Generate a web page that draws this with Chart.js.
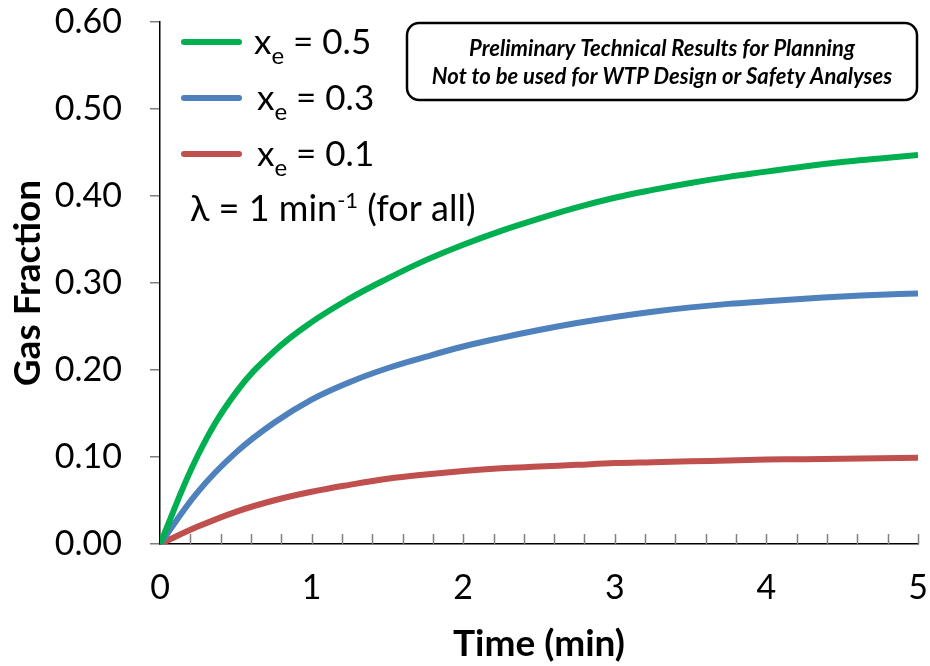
<!DOCTYPE html>
<html>
<head>
<meta charset="utf-8">
<script src="https://cdn.jsdelivr.net/npm/chart.js@4/dist/chart.umd.min.js"></script>
<style>
  html, body { margin: 0; padding: 0; background: #fff; }
  #wrap { width: 930px; height: 666px; position: relative; }
</style>
</head>
<body>
<div id="wrap"><canvas id="graph" width="930" height="666"></canvas></div>
<script>
// time (min)
var timeMin = [0, 0.25, 0.5, 0.75, 1.0, 1.25, 1.5, 1.75, 2.0, 2.25, 2.5, 2.75, 3.0, 3.25, 3.5, 3.75, 4.0, 4.25, 4.5, 4.75, 5.0];
// gas fraction
var gasX05 = [0, 0.102, 0.174, 0.221, 0.255, 0.282, 0.305, 0.326, 0.344, 0.360, 0.374, 0.387, 0.398, 0.407, 0.415, 0.422, 0.428, 0.434, 0.439, 0.443, 0.447];
var gasX03 = [0, 0.060, 0.105, 0.139, 0.166, 0.186, 0.202, 0.215, 0.227, 0.237, 0.246, 0.254, 0.261, 0.267, 0.272, 0.276, 0.279, 0.282, 0.2845, 0.2865, 0.288];
var gasX01 = [0, 0.020, 0.037, 0.050, 0.060, 0.068, 0.075, 0.080, 0.084, 0.087, 0.089, 0.091, 0.093, 0.094, 0.095, 0.096, 0.097, 0.0975, 0.098, 0.0985, 0.099];
var seriesLabels = ['0.5', '0.3', '0.1'];
var seriesColors = ['#00B050', '#4F81BD', '#C0504D'];
var xTickLabels = ['0', '1', '2', '3', '4', '5'];
var noteLines = ['Preliminary Technical Results for Planning', 'Not to be used for WTP Design or Safety Analyses'];

var font = 'Lato, "Open Sans", sans-serif';

function pts(ys) {
    return timeMin.map(function(t, i) { return { x: t, y: ys[i] }; });
}

// inward minor ticks on the time axis
var innerTicks = {
    id: 'innerTicks',
    beforeDatasetsDraw: function(chart) {
        var ctx = chart.ctx, x = chart.scales.x, bottom = chart.chartArea.bottom;
        ctx.save();
        ctx.strokeStyle = '#7f7f7f';
        ctx.lineWidth = 1.5;
        for (var v = 0.2; v < 5.001; v += 0.2) {
            var px = Math.round(x.getPixelForValue(v)) + 0.5;
            ctx.beginPath();
            ctx.moveTo(px, bottom);
            ctx.lineTo(px, bottom - 10);
            ctx.stroke();
        }
        ctx.restore();
    }
};

// legend + note box
var notes = {
    id: 'notes',
    afterDraw: function(chart) {
        var ctx = chart.ctx;
        ctx.save();
        var rows = [42, 98, 154];
        chart.data.datasets.forEach(function(ds, i) {
            var y = rows[i];
            ctx.strokeStyle = ds.borderColor;
            ctx.lineWidth = 6;
            ctx.lineCap = 'round';
            ctx.beginPath();
            ctx.moveTo(184, y);
            ctx.lineTo(239, y);
            ctx.stroke();
            ctx.fillStyle = '#000';
            ctx.textBaseline = 'alphabetic';
            ctx.font = '35px ' + font;
            var xs = i === 0 ? 254 : 257;
            ctx.fillText('x', xs, y + 12);
            var w = ctx.measureText('x').width;
            ctx.font = '24px ' + font;
            ctx.fillText('e', xs + w, y + 22);
            var w2 = ctx.measureText('e').width;
            ctx.font = '35px ' + font;
            ctx.fillText(' = ' + seriesLabels[i], xs + w + w2, y + 12);
        });
        // lambda line
        ctx.font = '36px ' + font;
        var lx = 190, ly = 221;
        var t1 = '\u03bb = 1 min';
        ctx.fillText(t1, lx, ly);
        var w1 = ctx.measureText(t1).width;
        ctx.font = '22px ' + font;
        ctx.fillText('-1', lx + w1, ly - 13);
        var ws = ctx.measureText('-1').width;
        ctx.font = '36px ' + font;
        ctx.fillText(' (for all)', lx + w1 + ws, ly);

        // note box
        var bx = 407, by = 23, bw = 510, bh = 77, r = 12;
        ctx.lineWidth = 2.5;
        ctx.strokeStyle = '#000';
        ctx.fillStyle = '#fff';
        ctx.beginPath();
        ctx.roundRect(bx, by, bw, bh, r);
        ctx.fill();
        ctx.stroke();
        ctx.fillStyle = '#000';
        ctx.font = 'italic bold 22px ' + font;
        ctx.textAlign = 'center';
        ctx.fillText(noteLines[0], bx + bw / 2, 56);
        ctx.fillText(noteLines[1], bx + bw / 2, 84);
        ctx.restore();
    }
};

var ctx = document.getElementById('graph').getContext('2d');
var chart = new Chart(ctx, {
    type: 'line',
    data: {
        datasets: [0, 1, 2].map(function(i) {
            return {
                label: 'x_e = ' + seriesLabels[i],
                data: pts([gasX05, gasX03, gasX01][i]),
                borderColor: seriesColors[i],
                borderWidth: 6,
                pointRadius: 0,
                fill: false,
                tension: 0.4
            };
        })
    },
    options: {
        responsive: false,
        animation: false,
        layout: { padding: { top: 22, right: 12, left: 0, bottom: 0 } },
        plugins: { legend: { display: false }, tooltip: { enabled: false } },
        scales: {
            x: {
                type: 'linear',
                min: 0, max: 5,
                afterFit: function(s) { s.height = 122; s.paddingLeft = 0; s.paddingRight = 0; },
                border: { color: '#000', width: 1.5 },
                grid: { display: false },
                ticks: {
                    stepSize: 1,
                    padding: 16,
                    color: '#000',
                    font: { family: font, size: 34 },
                    callback: function(v) { return xTickLabels[Math.round(v)]; }
                },
                title: {
                    display: true,
                    text: 'Time (min)',
                    color: '#000',
                    font: { family: font, size: 37, weight: 'bold' },
                    padding: { top: 0, bottom: 0 }
                }
            },
            y: {
                min: 0, max: 0.6,
                afterFit: function(s) { s.width = 160; s.paddingTop = 0; s.paddingBottom = 0; },
                border: { color: '#000', width: 1.5 },
                grid: { drawOnChartArea: false, color: '#7f7f7f', tickLength: 10, lineWidth: 1.5 },
                ticks: {
                    stepSize: 0.1,
                    padding: 28,
                    color: '#000',
                    font: { family: font, size: 34 },
                    callback: function(v) { return v.toFixed(2); }
                },
                title: {
                    display: true,
                    text: 'Gas Fraction',
                    color: '#000',
                    font: { family: font, size: 37, weight: 'bold' },
                    padding: { top: 6, bottom: 0 }
                }
            }
        }
    },
    plugins: [innerTicks, notes]
});
</script>
</body>
</html>
